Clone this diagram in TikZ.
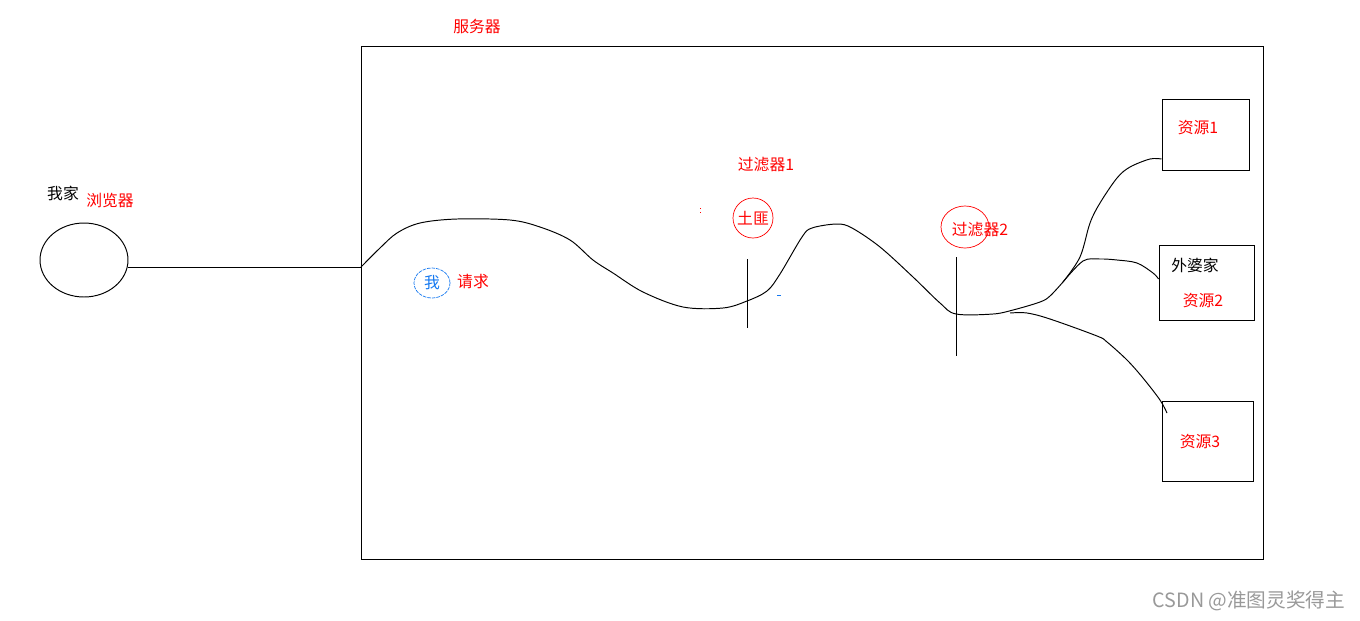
\documentclass[tikz,border=0pt]{standalone}
\usepackage{fontspec}
\setmainfont{Noto Sans CJK SC}
\usetikzlibrary{positioning,shapes.geometric}
\definecolor{mered}{RGB}{255,0,0}
\definecolor{meblue}{RGB}{20,120,240}

\begin{document}
\begin{tikzpicture}[x=0.02cm,y=-0.02cm,line width=0.55pt,
    font=\fontsize{9}{10}\selectfont,
    redtext/.style={text=mered,inner sep=0pt},
    resbox/.style={draw,rectangle,inner sep=0pt}]
        \useasboundingbox (0,0) rectangle (1360,620);

        % server and browser
        \node [resbox,minimum width=18.06cm,minimum height=10.28cm] at (812.5,303) (server){};
        \node [redtext] at (477,26) (serverlabel){服务器};
        \node [draw,ellipse,minimum width=1.76cm,minimum height=1.48cm,inner sep=0pt] at (84,260) (home){};
        \node [inner sep=0pt] at (63,193) (homelabel){我家};
        \node [redtext] at (110,200) (browserlabel){浏览器};
        \coordinate (in) at (361,267);
        \draw (home.east |- in) -- (in);

        % resources
        \node [resbox,minimum width=1.74cm,minimum height=1.42cm] at (1205.5,134.5) (res1){};
        \node [redtext] at (1198,128) {资源1};
        \node [resbox,minimum width=1.9cm,minimum height=1.5cm] at (1206.5,282.5) (res2){};
        \node [inner sep=0pt] at (1195,265) {外婆家};
        \node [redtext] at (1203,301) {资源2};
        \node [resbox,minimum width=1.82cm,minimum height=1.6cm] at (1207.5,441) (res3){};
        \node [redtext] at (1200,442) {资源3};

        % me and the request
        \node [draw=meblue,ellipse,dashed,dash pattern=on 2pt off 0.6pt,line width=0.4pt,minimum width=0.72cm,minimum height=0.6cm,inner sep=0pt,text=meblue] at (432,283) (me){我};
        \node [redtext] at (473,281) (request){请求};

        % filters
        \node [redtext] at (766,165) (f1label){过滤器1};
        \node [draw=mered,circle,line width=0.4pt,minimum size=0.8cm,inner sep=0pt,text=mered] at (753,218) (bandit){土匪};
        \draw [draw=mered,line width=0.4pt] (965,227) ellipse [x radius=24,y radius=21];
        \node [redtext] at (980,230) (f2label){过滤器2};
        \coordinate (f1) at (747,301);
        \coordinate (f2) at (956,314);
        \draw (747,259) -- (747,328);
        \draw (956,257) -- (956,356);
        \draw [mered,line width=0.4pt] (700,208) -- (700,209) (700,212) -- (700,213);
        \draw [meblue,line width=0.4pt] (777,295) -- (781,295);

        % the road
        \draw plot [smooth,tension=0.55] coordinates {(in) (380,248) (397,233) (420,223) (457,219)
            (510,220) (540,227) (570,240) (593,260) (613,273) (643,292) (683,307)
            (723,308) (f1) (767,291) (780,274) (802,237) (812,228) (837,224) (852,228)
            (880,247) (913,277) (940,303) (f2) (993,314) (1013,310) (1040,302)
            (1050,296) (1063,282)};
        \coordinate (fork) at (1063,282);
        \draw plot [smooth,tension=0.55] coordinates {(fork) (1080,257) (1090,223) (1100,203)
            (1117,178) (1130,167) (1150,159) (res1.west |- 0,159)};
        \draw plot [smooth,tension=0.55] coordinates {(fork) (1083,261) (1100,259) (1117,260)
            (1137,263) (1153,273) (res2.west |- 0,279)};
        \draw plot [smooth,tension=0.55] coordinates {(1010,313) (1027,313) (1050,319) (1097,336)
            (1107,342) (1127,360) (1143,378) (1160,400) (1167,413)};

        % watermark
        \node [text=black!40,font=\fontsize{11.2}{12}\selectfont,inner sep=0pt] at (1249,601) (mark){CSDN @准图灵奖得主};
      \end{tikzpicture}
\end{document}
